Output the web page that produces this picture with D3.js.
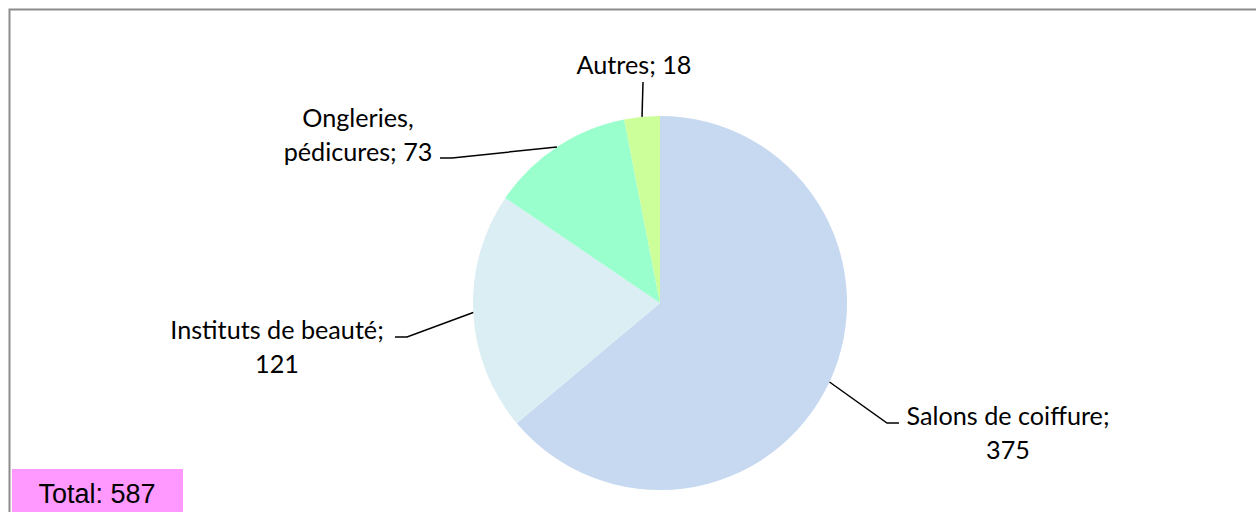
<!DOCTYPE html>
<html><head><meta charset="utf-8">
<script src="https://cdn.jsdelivr.net/npm/d3@7"></script>
<style>html,body{margin:0;padding:0;background:#fff;overflow:hidden}</style>
</head><body>
<svg id="c" width="1256" height="512"></svg>
<script>
const categories = ["Salons de coiffure", "Instituts de beauté", "Ongleries, pédicures", "Autres"];
const values = [375, 121, 73, 18];
const colors = ["#c6d9f1", "#dbeef4", "#99ffcc", "#ccff99"];
const labelLines = [["Salons de coiffure;", "375"], ["Instituts de beauté;", "121"], ["Ongleries,", "pédicures; 73"], ["Autres; 18"]];
const totalText = "Total: 587";

// layout (pixels) for label placement
const layout = [
  {elbow:[887,423], end:[899,423], tx:1008, ty:415},
  {elbow:[407,337], end:[395,337], tx:277, ty:329},
  {elbow:[452,158], end:[440,158], tx:358, ty:117},
  {elbow:null, end:[643,82], tx:634, ty:64}
];

const svg = d3.select("#c");
const cx = 660, cy = 303, r = 187;

svg.append("rect").attr("x",9.5).attr("y",9.5).attr("width",1300).attr("height",600)
  .attr("fill","#fff").attr("stroke","#8c8c8c").attr("stroke-width",2);

const pie = d3.pie().sort(null).value(d=>d);
const arcs = pie(values);
const arc = d3.arc().innerRadius(0).outerRadius(r);
const g = svg.append("g").attr("transform",`translate(${cx},${cy})`);
g.selectAll("path").data(arcs).enter().append("path")
  .attr("d",arc).attr("fill",(d,i)=>colors[i]);

const fontFam = "Lato, 'Open Sans', sans-serif";
const probe = svg.append("text").attr("font-family",fontFam).attr("font-size",20).text("Autres; 18");
const fs = 20*115/probe.node().getComputedTextLength();
probe.remove();

arcs.forEach((a,i)=>{
  const mid = (a.startAngle+a.endAngle)/2;
  const sx = cx + r*Math.sin(mid), sy = cy - r*Math.cos(mid);
  const L = layout[i];
  const pts = [[sx,sy]];
  if (L.elbow) pts.push(L.elbow);
  pts.push(L.end);
  svg.append("path").attr("d", d3.line()(pts)).attr("fill","none").attr("stroke","#000").attr("stroke-width",1.5);
  const t = svg.append("text").attr("font-family",fontFam).attr("font-size",fs)
    .attr("text-anchor","middle").attr("fill","#000");
  labelLines[i].forEach((ln,j)=>{
    t.append("tspan").attr("x",L.tx).attr("y",L.ty + j*34).attr("dominant-baseline","central").text(ln);
  });
});

svg.append("rect").attr("x",12).attr("y",469).attr("width",171).attr("height",50).attr("fill","#ff99ff");
svg.append("text").attr("x",97).attr("y",494).attr("text-anchor","middle").attr("dominant-baseline","central")
  .attr("font-family","'Liberation Sans', Arial, sans-serif").attr("font-size",27).attr("fill","#000").text(totalText);
</script>
</body></html>
